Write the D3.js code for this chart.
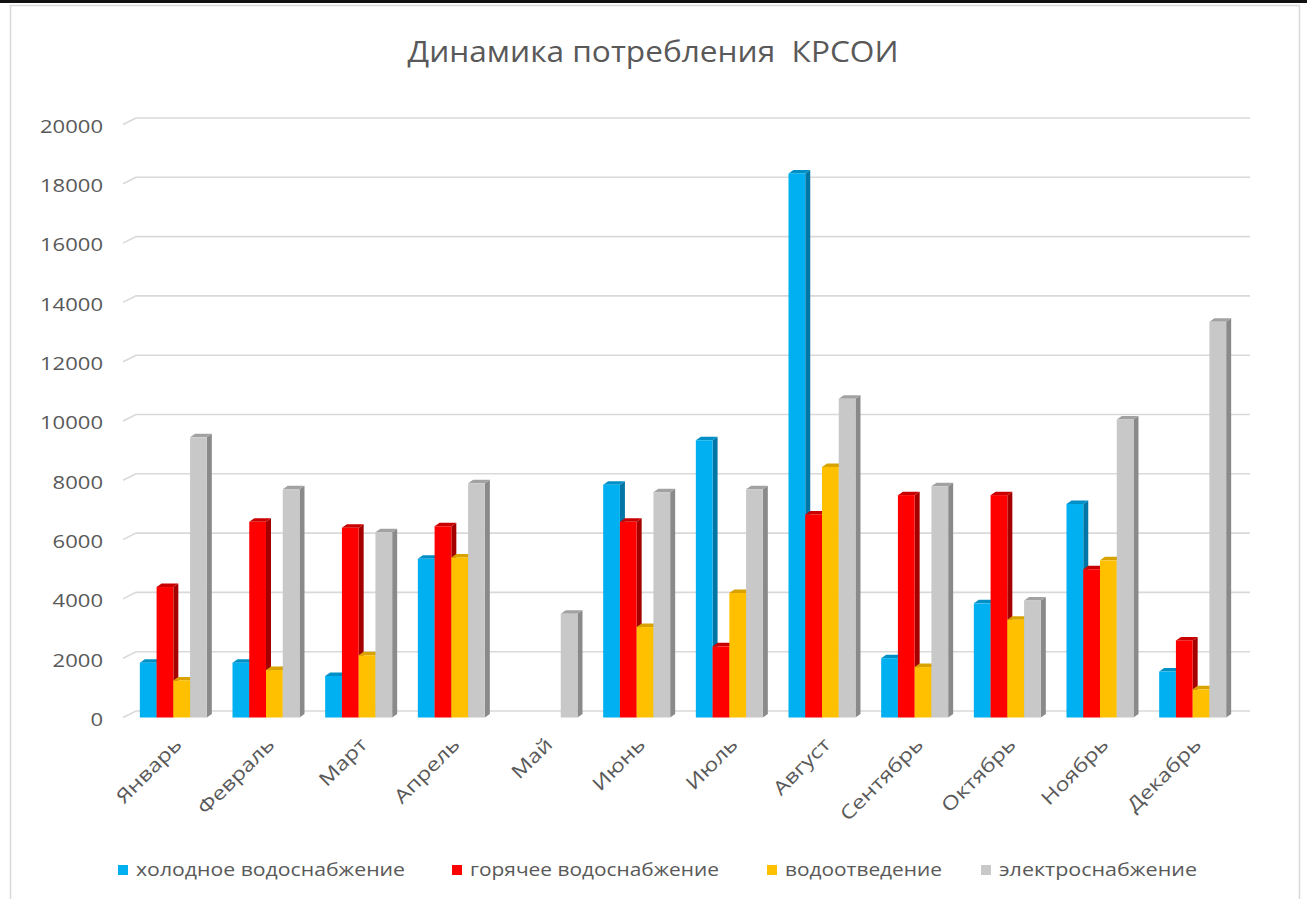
<!DOCTYPE html>
<html><head><meta charset="utf-8">
<script src="https://cdn.jsdelivr.net/npm/d3@7"></script>
<style>body{margin:0;background:#fff}svg{display:block}text{font-family:"Open Sans",sans-serif;fill:#595959}</style>
</head><body>
<svg id="c" width="1307" height="899"></svg>
<script>
const title = "Динамика потребления  КРСОИ";
const months = ["Январь","Февраль","Март","Апрель","Май","Июнь","Июль","Август","Сентябрь","Октябрь","Ноябрь","Декабрь"];
const seriesNames = ["холодное водоснабжение","горячее водоснабжение","водоотведение","электроснабжение"];
const coldWater = [1850,1850,1400,5350,0,7850,9350,18350,2000,3850,7200,1550];
const hotWater  = [4400,6600,6400,6450,0,6600,2400,6850,7500,7500,5000,2600];
const drainage  = [1250,1600,2100,5400,0,3050,4200,8450,1700,3300,5300,950];
const power     = [9450,7700,6250,7900,3500,7600,7700,10750,7800,3950,10050,13350];
const yTicks = [0,2000,4000,6000,8000,10000,12000,14000,16000,18000,20000];

const seriesValues = [coldWater, hotWater, drainage, power];
const front = ["#00b0f0","#ff0000","#ffc000","#c8c8c8"];
const topC  = ["#0090c6","#c80000","#d8a200","#a2a2a2"];
const sideC = ["#0076a6","#a50000","#b88c00","#8a8a8a"];

const svg = d3.select("#c");
// page decoration
svg.append("rect").attr("x",0).attr("y",0).attr("width",1307).attr("height",3).attr("fill","#111");
svg.append("rect").attr("x",10.5).attr("y",5.5).attr("width",1289).attr("height",900)
  .attr("fill","none").attr("stroke","#d9d9d9").attr("stroke-width",1.5);

const x = d3.scaleBand().domain(months).range([127,1239]).paddingInner(0.277).paddingOuter(0.1385);
const xs = d3.scaleBand().domain(seriesNames).range([0,x.bandwidth()]);
const y = d3.scaleLinear().domain([0,20000]).range([717.5,124.5]);
const gdx = 13, gdy = -6.5;   // floor/wall depth
const bdx = 5, bdy = -3.5;    // bar depth

// gridlines
const gx0 = 123, gx1 = 1250;
svg.append("g").selectAll("path").data(yTicks).join("path")
  .attr("d", v => `M${gx0},${y(v)} L${gx0+gdx},${y(v)+gdy} L${gx1},${y(v)+gdy}`)
  .attr("fill","none").attr("stroke","#d9d9d9").attr("stroke-width",1.6);

// y labels
const yl = svg.append("g").selectAll("text").data(yTicks).join("text")
  .attr("x",103).attr("y", v => y(v)+2).attr("dy","0.35em")
  .attr("text-anchor","end").style("font-size","18px").text(d => d);

// bars
const g = svg.append("g");
months.forEach((m,i) => {
  seriesNames.forEach((s,k) => {
    const v = seriesValues[k][i];
    if (!v) return;
    const x0 = x(m) + xs(s), w = xs.bandwidth(), y0 = y(v), yb = y(0);
    const bg = g.append("g");
    bg.append("path").attr("fill",sideC[k])
      .attr("d",`M${x0+w},${y0} L${x0+w+bdx},${y0+bdy} L${x0+w+bdx},${yb+bdy} L${x0+w},${yb} Z`);
    bg.append("path").attr("fill",topC[k])
      .attr("d",`M${x0},${y0} L${x0+bdx},${y0+bdy} L${x0+w+bdx},${y0+bdy} L${x0+w},${y0} Z`);
    bg.append("rect").attr("fill",front[k]).attr("x",x0).attr("y",y0).attr("width",w).attr("height",yb-y0);
  });
});

// x labels
const xl = svg.append("g").selectAll("text").data(months).join("text")
  .attr("transform", m => `translate(${x(m)+x.bandwidth()/2+5},741) rotate(-45)`)
  .attr("text-anchor","end").attr("dy","0.35em").style("font-size","19px").text(d => d);

// title
const t = svg.append("text").attr("x",653).attr("y",62).attr("text-anchor","middle")
  .style("font-size","29px").style("white-space","pre").text(title);

// legend
const legX = [118, 452, 767, 981];
const legW = [269, 249, 157, 198];
const lg = svg.append("g").selectAll("g").data(seriesNames).join("g")
  .attr("transform",(d,i)=>`translate(${legX[i]},865)`);
lg.append("rect").attr("width",10).attr("height",10).attr("fill",(d,i)=>front[i]);
lg.append("text").attr("x",18).attr("y",5).attr("dy","0.35em").style("font-size","18px").text(d=>d);

// horizontal stretch to match reference letter widths
function stretch(sel, sx){ sel.each(function(){ const w=this.getComputedTextLength(); d3.select(this).attr("textLength",w*sx).attr("lengthAdjust","spacingAndGlyphs"); }); }
const w20000 = yl.filter(d=>d===20000).node().getComputedTextLength();
const sx = 63 / w20000;
stretch(yl, sx);
stretch(xl, sx);
t.attr("textLength",491).attr("lengthAdjust","spacingAndGlyphs");
lg.select("text").attr("textLength",(d,i)=>legW[i]).attr("lengthAdjust","spacingAndGlyphs");
</script>
</body></html>
